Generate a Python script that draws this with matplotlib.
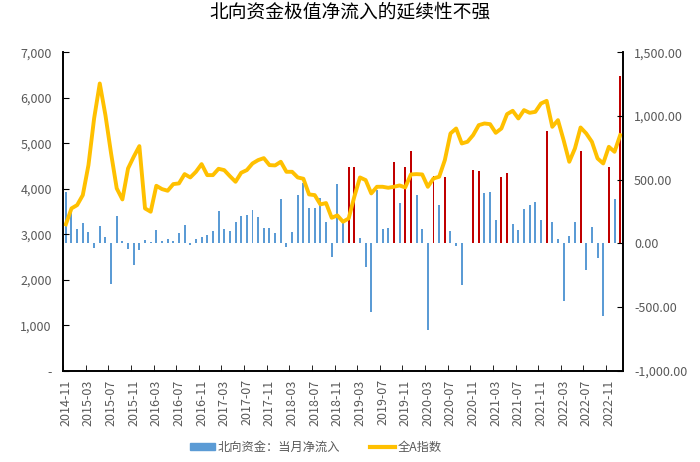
import matplotlib
matplotlib.use("Agg")
import matplotlib.pyplot as plt
from matplotlib.patches import Patch
from matplotlib.lines import Line2D
from matplotlib.ticker import FuncFormatter
import numpy as np
import pandas as pd

plt.rcParams["font.family"] = ["Noto Sans CJK SC", "DejaVu Sans"]

# monthly categories, 2014-11 .. 2023-01
months = list(pd.period_range("2014-11", periods=99, freq="M").strftime("%Y-%m"))

# 北向资金：当月净流入 (right axis)
northbound = [
    405, 250, 110, 157, 91, -34, 138, 52, -319, 212,
    16, -47, -165, -52, 31, 8, 104, 18, 37, 21,
    86, 144, -13, 37, 47, 63, 94, 256, 110, 99,
    172, 219, 222, 266, 204, 118, 120, 81, 347, -29,
    91, 381, 478, 280, 280, 353, 172, -107, 465, 162,
    600, 600, 42, -183, -535, 418, 115, 125, 640, 319,
    600, 726, 381, 115, -679, 528, 298, 522, 97, -21,
    -327, 3, 575, 569, 397, 407, 183, 522, 556, 151,
    104, 269, 303, 324, 183, 885, 167, 37, -452, 57,
    167, 726, -209, 128, -112, -569, 596, 347, 1311,
]

# 全A指数 (left axis)
index_all_a = [
    3219, 3570, 3643, 3862, 4521, 5545, 6313, 5618, 4777, 4009,
    3767, 4448, 4704, 4938, 3570, 3497, 4067, 3994, 3958, 4104,
    4119, 4323, 4250, 4374, 4543, 4301, 4301, 4440, 4411, 4279,
    4155, 4353, 4411, 4557, 4631, 4674, 4521, 4514, 4594, 4374,
    4374, 4250, 4221, 3877, 3862, 3658, 3687, 3365, 3416, 3277,
    3350, 3826, 4250, 4192, 3899, 4045, 4045, 4023, 4045, 4074,
    4031, 4316, 4323, 4316, 4045, 4228, 4265, 4630, 5216, 5325,
    4996, 5033, 5179, 5398, 5435, 5420, 5230, 5325, 5640, 5713,
    5545, 5728, 5669, 5691, 5874, 5932, 5362, 5508, 5069, 4594,
    4886, 5347, 5216, 5033, 4667, 4557, 4923, 4813, 5179,
]

# months with extreme inflows, highlighted in red
extreme_months = [
    "2019-01", "2019-02", "2019-09", "2019-11", "2019-12", "2020-04",
    "2020-06", "2020-11", "2020-12", "2021-04", "2021-05", "2021-12",
    "2022-06", "2022-11", "2023-01",
]

BLUE = "#5B9BD5"
RED = "#C00000"
GOLD = "#FFC000"
GREY = "#595959"

x = np.arange(len(months))
bar_colors = [RED if m in extreme_months else BLUE for m in months]

fig = plt.figure(figsize=(7, 4.62), dpi=100)
ax_l = fig.add_axes([0.09, 0.197, 0.80, 0.69])
ax_r = ax_l.twinx()

ax_r.bar(x, northbound, width=0.35, color=bar_colors)
ax_l.plot(x, index_all_a, color=GOLD, lw=2.8, solid_joinstyle="round")

ax_l.set_zorder(ax_r.get_zorder() + 1)
ax_l.patch.set_visible(False)

ax_l.set_xlim(-0.5, len(months) - 0.5)
ax_l.set_ylim(0, 7000)
ax_r.set_ylim(-1000, 1500)
ax_l.set_yticks(np.arange(0, 7001, 1000))
ax_r.set_yticks(np.arange(-1000, 1501, 500))
ax_l.yaxis.set_major_formatter(FuncFormatter(lambda v, p: "-" if v == 0 else f"{v:,.0f}"))
ax_r.yaxis.set_major_formatter(FuncFormatter(lambda v, p: f"{v:,.2f}"))

label_pos = x[::4]
ax_l.set_xticks(label_pos)
ax_l.set_xticklabels([months[i] for i in label_pos], rotation=90)
ax_l.set_xticks(np.arange(-0.5, len(months), 4), minor=True)
ax_l.tick_params(axis="x", which="major", length=0, labelsize=9, colors=GREY, pad=6)
ax_l.tick_params(axis="x", which="minor", length=4, direction="in", color="black")
ax_l.tick_params(axis="y", length=4, direction="in", labelsize=9, colors=GREY, pad=8)
ax_r.tick_params(axis="y", length=4, direction="in", labelsize=9, colors=GREY, pad=8)
for ax in (ax_l, ax_r):
    ax.tick_params(axis="y", color="black")
    ax.spines["top"].set_visible(False)
    for s in ("left", "right", "bottom"):
        ax.spines[s].set_color("black")
        ax.spines[s].set_linewidth(1.2)

fig.suptitle("北向资金极值净流入的延续性不强", x=0.5, y=0.997, fontsize=13.5)

handles = [
    Patch(facecolor=BLUE, edgecolor=BLUE),
    Line2D([0], [0], color=GOLD, lw=3),
]
fig.legend(handles, ["北向资金：当月净流入", "全A指数"], loc="center",
           bbox_to_anchor=(0.451, 0.032), ncol=2, frameon=False, fontsize=8.8,
           handlelength=2.1, handleheight=0.6, columnspacing=2.4,
           handletextpad=0.2, labelcolor=GREY)

fig.savefig("out.png", dpi=100, facecolor="white")
